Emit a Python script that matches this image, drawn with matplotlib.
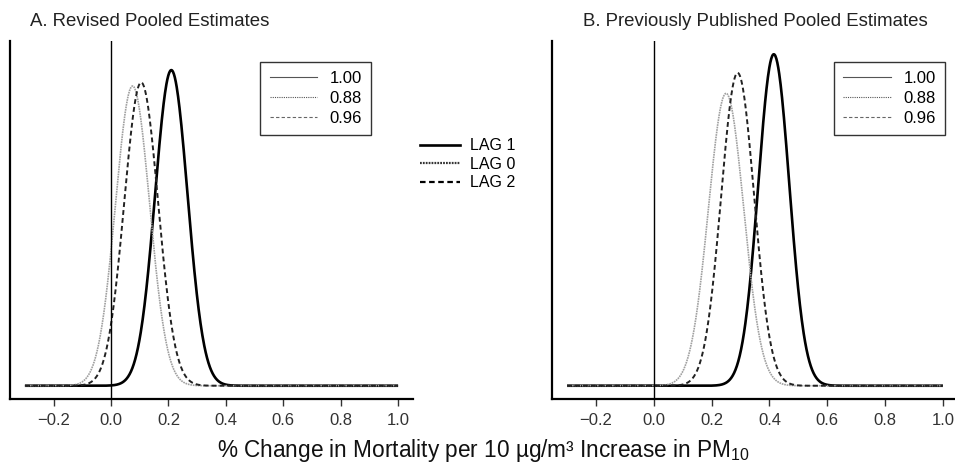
import numpy as np
import matplotlib
matplotlib.use("Agg")
import matplotlib.pyplot as plt
from matplotlib.lines import Line2D

plt.rcParams['font.family'] = ['Liberation Sans', 'DejaVu Sans']
plt.rcParams['mathtext.fontset'] = 'custom'
plt.rcParams['mathtext.rm'] = 'Liberation Sans'
plt.rcParams['mathtext.it'] = 'Liberation Sans'

# posterior summaries (mean, sd of % change)
lags = ["LAG 1", "LAG 0", "LAG 2"]
revised_mean = [0.21, 0.075, 0.105]
revised_sd = [0.0565, 0.0595, 0.0588]
published_mean = [0.415, 0.25, 0.29]
published_sd = [0.0538, 0.061, 0.057]
box_labels = ["1.00", "0.88", "0.96"]
panel_titles = ["A. Revised Pooled Estimates", "B. Previously Published Pooled Estimates"]
x_range = (-0.3, 1.0)
xticks = [-0.2, 0.0, 0.2, 0.4, 0.6, 0.8, 1.0]

# line styles per lag
styles = [
    dict(color="black", lw=1.9, ls="-"),
    dict(color="#a0a0a0", lw=1.2, ls=(0, (1, 0.5))),
    dict(color="#222222", lw=1.4, ls=(0, (2.5, 1.6))),
]


def density(x, m, s):
    return np.exp(-0.5 * ((x - m) / s) ** 2) / (s * np.sqrt(2 * np.pi))


xs = np.linspace(x_range[0], x_range[1], 800)
ymax = max(density(m, m, s) for m, s in zip(revised_mean + published_mean,
                                            revised_sd + published_sd))

W, H = 955, 466
fig = plt.figure(figsize=(W / 100, H / 100), dpi=100)

panels = [
    (revised_mean, revised_sd, [10, 41, 403, 358], 0.896),
    (published_mean, published_sd, [552, 41, 406, 358], 0.968),
]

for k, (means, sds, (l, t, w, h), leg_x) in enumerate(panels):
    ax = fig.add_axes([l / W, (H - t - h) / H, w / W, h / H])
    for m, s, st in zip(means, sds, styles):
        ax.plot(xs, density(xs, m, s), solid_capstyle="butt", **st)
    ax.axvline(0, color="black", lw=1.0)
    ax.set_xlim(-0.352, 1.052)
    ax.set_ylim(-0.04 * ymax, 1.04 * ymax)
    ax.set_yticks([])
    ax.set_xticks(xticks)
    ax.set_xticklabels(["%.1f" % v if v >= 0 else "\u2212%.1f" % -v for v in xticks])
    ax.tick_params(axis="x", length=5, width=1, labelsize=12, pad=5, colors="#333333")
    ax.spines["top"].set_visible(False)
    ax.spines["right"].set_visible(False)
    ax.spines["left"].set_linewidth(1.6)
    ax.spines["bottom"].set_linewidth(1.6)
    ax.patch.set_visible(False)

    handles = [
        Line2D([], [], color="#555555", lw=0.8, ls="-"),
        Line2D([], [], color="#555555", lw=0.8, ls=(0, (1, 1))),
        Line2D([], [], color="#666666", lw=0.8, ls=(0, (3, 2))),
    ]
    leg = ax.legend(handles, box_labels, loc="upper right",
                    bbox_to_anchor=(leg_x, 0.941), borderaxespad=0,
                    fontsize=12, handlelength=2.85, handletextpad=0.75,
                    labelspacing=0.3, borderpad=0.55, fancybox=False,
                    framealpha=1, edgecolor="#333333")
    leg.get_frame().set_linewidth(1.0)

    fig.text((30 if k == 0 else 583) / W, 1 - 22 / H, panel_titles[k],
             fontsize=13.4, ha="left", va="center", color="#222222")

lag_handles = [Line2D([], [], color="black", lw=1.9, ls="-"),
               Line2D([], [], color="#333333", lw=1.6, ls=(0, (0.8, 0.5))),
               Line2D([], [], color="black", lw=1.6, ls=(0, (2.5, 1.6)))]
fig.legend(lag_handles, lags, loc="upper left",
           bbox_to_anchor=(414 / W, 1 - 132 / H), frameon=False,
           fontsize=11.5, handlelength=2.5, handletextpad=0.6,
           labelspacing=0.22, borderaxespad=0)

fig.text(483 / W, 1 - 451 / H,
         "% Change in Mortality per 10 \u00b5g/m\u00b3 Increase in PM$_{10}$",
         fontsize=16.3, ha="center", va="center", color="#111111")

fig.savefig("out.png", dpi=100)
